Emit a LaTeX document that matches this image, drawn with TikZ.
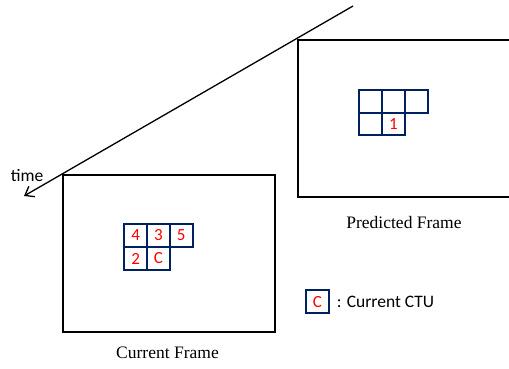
\documentclass[tikz,border=0pt]{standalone}
\usepackage{fontspec}
\setmainfont{Liberation Serif}
\newfontfamily\labelfont{Carlito}
\usetikzlibrary{arrows.meta}
\definecolor{ctublue}{RGB}{0,32,96}
\definecolor{ctured}{RGB}{255,0,0}
\begin{document}
\begin{tikzpicture}[x=1pt,y=-1pt,
  frame/.style={draw=black,line width=2pt,inner sep=0pt,outer sep=0pt,rectangle},
  ctu/.style={draw=ctublue,line width=2pt,minimum width=23pt,minimum height=22.6pt,
    inner sep=0pt,outer sep=0pt,text=ctured,font=\labelfont\fontsize{17}{17}\selectfont},
  caption/.style={font=\fontsize{17.5}{20}\selectfont},
  sanslabel/.style={font=\labelfont\fontsize{17.5}{20}\selectfont,inner sep=0pt}]
\useasboundingbox (0,0) rectangle (509,368);

% time axis
\coordinate (tstart) at (353,6);
\coordinate (tend) at (24,196);
\draw[line width=1.3pt,-{Straight Barb[length=8pt,width=12pt,line width=1.3pt]}] (tstart) -- (tend);
\node[sanslabel] (timelbl) at (27,176) {time};

% frames (the predicted one runs past the right border)
\node[frame,minimum width=212.5pt,minimum height=157.2pt] (cur) at (168.75,253.1) {};
\node[frame,minimum width=232pt,minimum height=156.7pt] (pred) at (414.3,118.35) {};

% CTUs of the current frame
\node[ctu] (c4) at (135.6,235.5) {4};
\node[ctu] (c3) at (158.4,235.5) {3};
\node[ctu] (c5) at (181.2,235.5) {5};
\node[ctu] (c2) at (135.6,258.5) {2};
\node[ctu] (cc) at (158.4,258.5) {C};

% CTUs of the predicted frame
\node[ctu,minimum height=22.5pt] (p1) at (370.5,101.5) {};
\node[ctu,minimum height=22.5pt] (p2) at (393.5,101.5) {};
\node[ctu,minimum height=22.5pt] (p3) at (416.3,101.5) {};
\node[ctu,minimum height=22.5pt] (p4) at (370.5,124) {};
\node[ctu,minimum height=22.5pt] (p5) at (393.5,124) {1};

% captions
\node[caption] (curcap) at (167.5,353) {Current Frame};
\node[caption] (predcap) at (404,222.3) {Predicted Frame};

% legend
\node[ctu,minimum width=23.6pt,minimum height=23pt] (legbox) at (317.5,301.8) {C};
\node[sanslabel,anchor=west] (legtxt) at (336.7,301.8) {: Current CTU};
\end{tikzpicture}
\end{document}
